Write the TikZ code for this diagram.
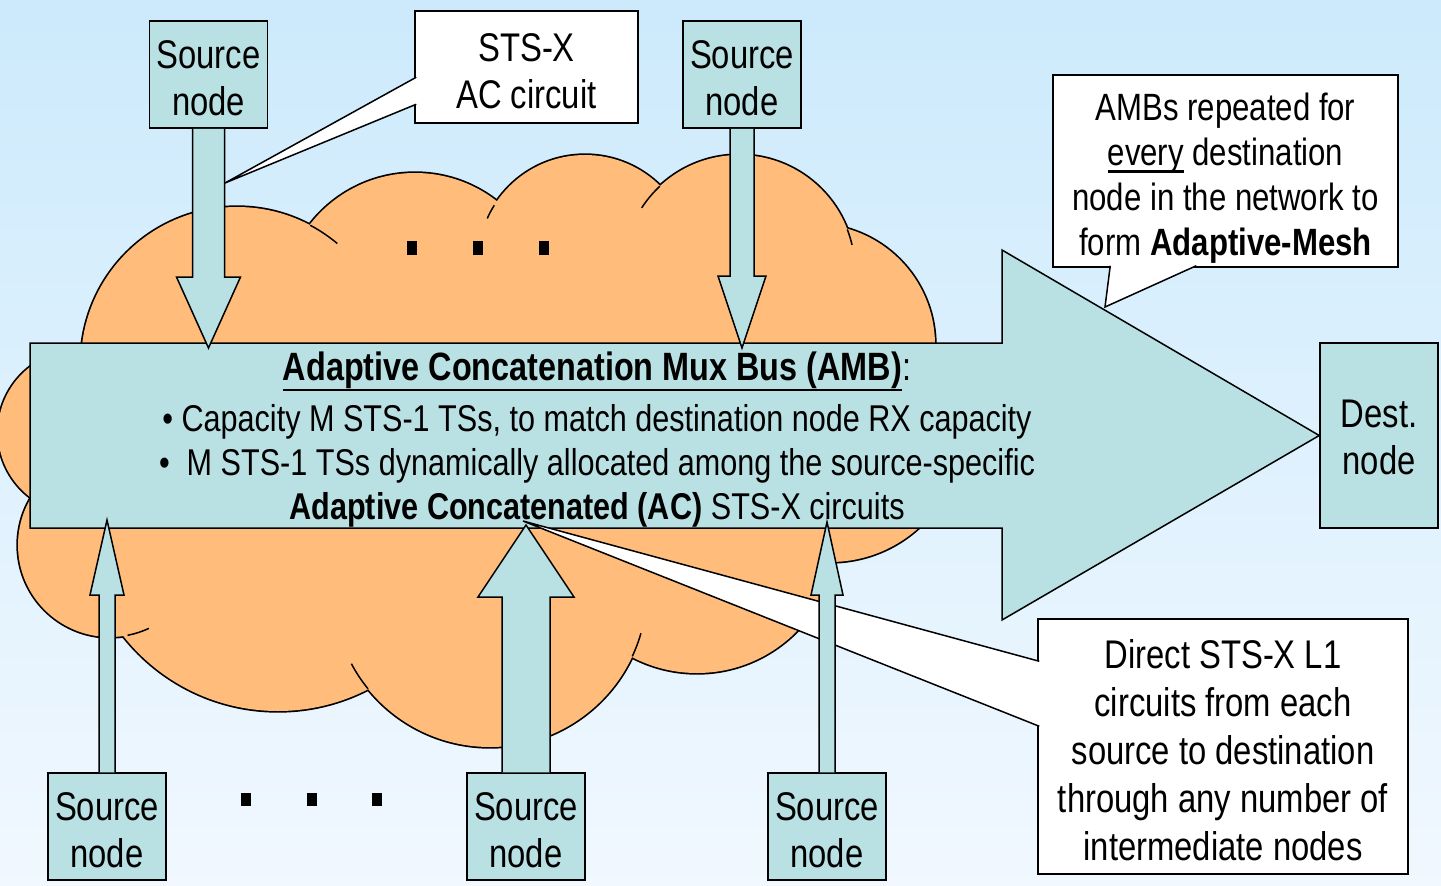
\documentclass[tikz,border=0pt]{standalone}
\usepackage{fontspec}
\setmainfont{Liberation Sans}[FakeStretch=0.82]
\usetikzlibrary{calc}

\definecolor{nodeteal}{RGB}{185,224,227}
\definecolor{cloudorange}{RGB}{255,188,122}
\definecolor{skytop}{RGB}{204,234,252}
\definecolor{skybottom}{RGB}{241,248,255}

\newsavebox\ulbox
\newcommand\ulin[2][8pt]{\sbox\ulbox{#2}\rlap{\rule[-#1]{\wd\ulbox}{2.4pt}}\usebox\ulbox}
\newcommand\tophigh[1]{\rule{0pt}{#1}}

% block arrow: tip, base point on the box, half shaft, half head, head offset
\newcommand\blockarrow[5]{%
  \draw[flow] ($(#2)+(-#3,0)$) -- ($(#1)+(-#3,#5)$) -- ($(#1)+(-#4,#5)$) -- (#1)
    -- ($(#1)+(#4,#5)$) -- ($(#1)+(#3,#5)$) -- ($(#2)+(#3,0)$);}

\tikzset{
  outline/.style={line width=1.5pt},
  srcbox/.style={outline,draw,fill=nodeteal,minimum width=118,minimum height=107,
    inner sep=0pt,align=center,font=\fontsize{40}{47}\selectfont},
  notebox/.style={outline,draw,fill=white,inner sep=0pt,align=center},
  flow/.style={outline,fill=nodeteal,line join=miter},
  cloudline/.style={line width=3.4pt},
}

\begin{document}
\begin{tikzpicture}[x=1pt,y=-1pt]
\useasboundingbox (0,0) rectangle (1441,886);
\shade[top color=skytop,bottom color=skybottom] (0,0) rectangle (1441,886);

% the cloud
\def\lobes{237/363/156, 415/306/133, 585/262/107, 739/271/116, 814/345/121,
  80/432/82, 110/545/92, 278/514/197, 490/590/157, 697/533/140, 830/430/132}
\foreach \cx/\cy/\r in \lobes
  \draw[cloudline] (\cx,\cy) circle[radius=\r];
\foreach \cx/\cy/\r in \lobes
  \fill[cloudorange] (\cx,\cy) circle[radius=\r];
\foreach \cx/\cy/\r/\a/\b in {237/363/156/-62/-50, 585/262/107/-156/-148,
  739/271/116/-147/-133, 739/271/116/-21/-13, 110/545/92/65/79,
  490/590/157/141/152, 490/590/157/16/25}
  \draw[outline] (\cx,\cy) ++(\a:\r) arc[start angle=\a,end angle=\b,radius=\r];
\foreach \x in {407,473,539}
  \fill (\x,241) rectangle ++(10,14);

% the nodes
\node[srcbox] (srcTL) at (208.5,74.5) {\tophigh{35pt}Source\\node};
\node[srcbox] (srcTR) at (742,74.5) {\tophigh{35pt}Source\\node};
\node[srcbox] (srcBL) at (107,826.5) {\tophigh{35pt}Source\\node};
\node[srcbox] (srcBM) at (526,826.5) {\tophigh{35pt}Source\\node};
\node[srcbox] (srcBR) at (827,826.5) {\tophigh{35pt}Source\\node};
\node[srcbox,minimum height=185] (dest) at (1379,435.5) {\tophigh{32pt}Dest.\\node};

% adaptive concatenation mux bus
\draw[flow] (30,343) -- (1002,343) -- (1002,250) -- (dest.west) -- (1002,620)
  -- (1002,528) -- (30,528) -- cycle;
\node[align=center,inner sep=0pt,font=\fontsize{37.3}{44}\selectfont] (ambText) at (597,440)
  {{\fontsize{39.5}{44}\selectfont\textbf{\ulin[10pt]{Adaptive Concatenation Mux Bus (AMB)}}:}\\[7pt]
   • Capacity M STS-1 TSs, to match destination node RX capacity\\
   •\ \ M STS-1 TSs dynamically allocated among the source-specific\\
   \textbf{Adaptive Concatenated (AC)} STS-X circuits};

% callouts
\node[notebox,minimum width=223,minimum height=112,font=\fontsize{40}{47}\selectfont]
  (stsBox) at (526.5,67) {\tophigh{36pt}STS-X\\AC circuit};
\node[notebox,minimum width=345,minimum height=192,font=\fontsize{38}{45}\selectfont]
  (ambNote) at (1225.5,171)
  {\tophigh{42pt}AMBs repeated for\\\ulin[7pt]{every} destination\\node in the network to\\form \textbf{Adaptive-Mesh}};
\node[notebox,minimum width=370,minimum height=255,font=\fontsize{40}{48}\selectfont]
  (directNote) at (1223,746.5)
  {\tophigh{37pt}Direct STS-X L1\\circuits from each\\source to destination\\through any number of\\intermediate nodes};

\coordinate (stsTip) at (225,183);
\coordinate (ambTip) at (1105,307);
\coordinate (directTip) at (523,521);

% arrows into the bus
\coordinate (tipTL) at (srcTL.south |- 0,348);
\coordinate (tipTR) at (srcTR.south |- 0,348);
\blockarrow{tipTL}{srcTL.south}{16}{32}{-71}
\blockarrow{tipTR}{srcTR.south}{12}{24}{-72}

\draw[outline,fill=white] ($(stsBox.north west)+(2,67)$) -- (stsTip) -- ($(stsBox.north west)+(2,94)$);
\draw[outline,fill=white] ($(ambNote.south west)+(58,-2)$) -- (ambTip) -- ($(ambNote.south west)+(144,-2)$);
\draw[outline,fill=white] ($(directNote.north west)+(2,43)$) -- (directTip) -- ($(directNote.north west)+(2,108)$);

\coordinate (tipBL) at (srcBL.north |- 0,520);
\coordinate (tipBM) at (srcBM.north |- 0,525);
\coordinate (tipBR) at (srcBR.north |- 0,522);
\blockarrow{tipBL}{srcBL.north}{8}{17}{75}
\blockarrow{tipBM}{srcBM.north}{24}{48}{72}
\blockarrow{tipBR}{srcBR.north}{8}{16}{73}

\foreach \x in {241,307,372}
  \fill (\x,793) rectangle ++(10,13);
\end{tikzpicture}
\end{document}
